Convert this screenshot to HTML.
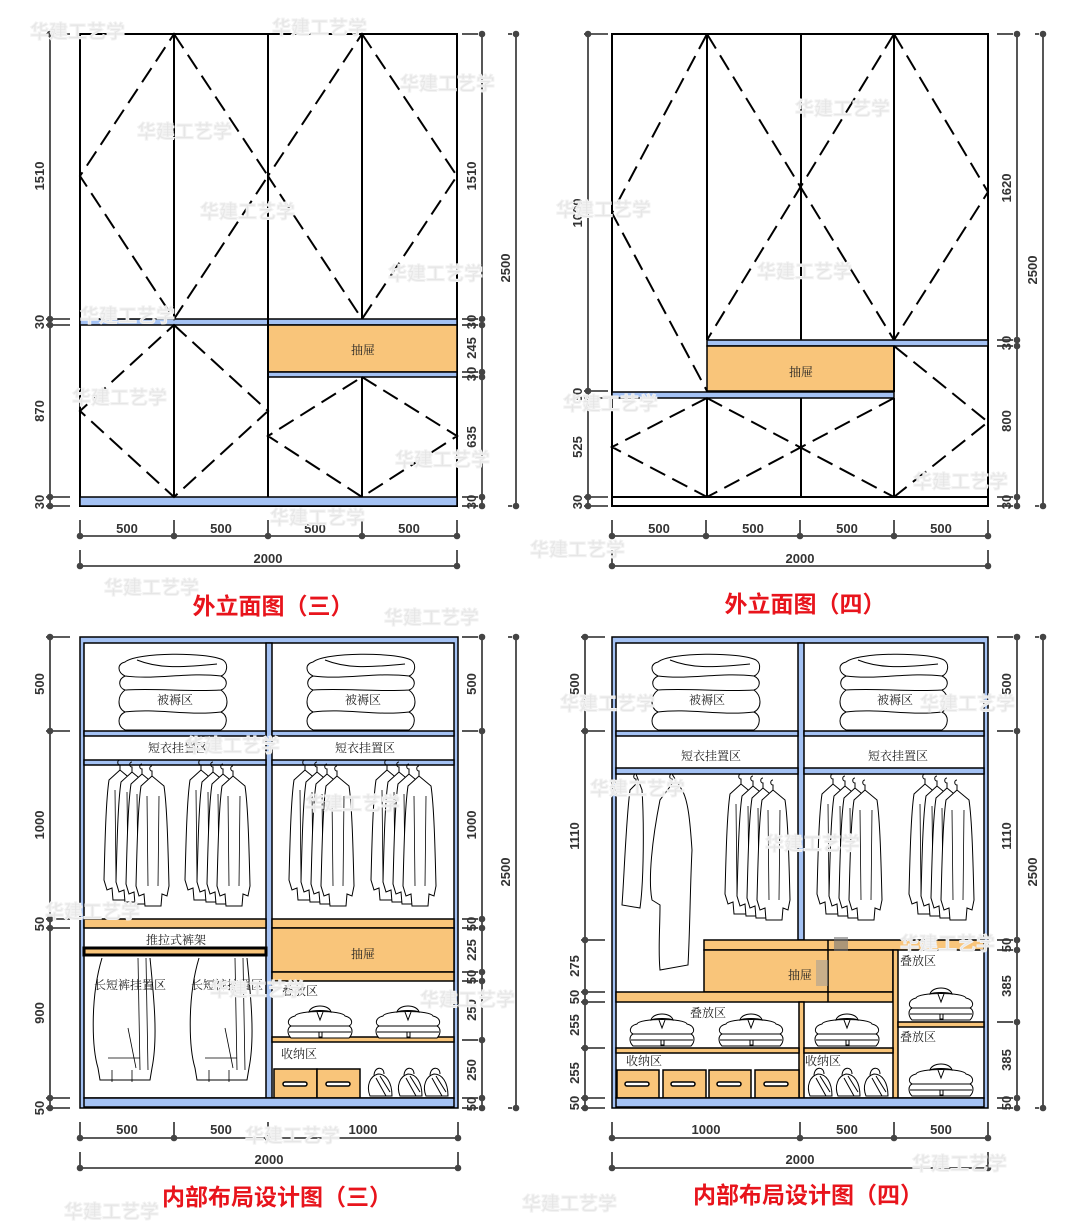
<!DOCTYPE html>
<html><head><meta charset="utf-8"><style>
html,body{margin:0;padding:0;background:#fff}
svg{display:block}
.t{font-family:"Liberation Serif","Noto Serif CJK SC",serif;font-size:12px;fill:#222}
.d{font-family:"Liberation Sans Narrow","Liberation Sans","Noto Sans CJK SC",sans-serif;font-size:13px;font-weight:bold;fill:#333;text-anchor:middle}
.ttl{font-family:"Liberation Sans","Noto Sans CJK SC",sans-serif;font-size:23px;font-weight:bold;fill:#e8141c;text-anchor:middle}
.wm{font-family:"Liberation Sans","Noto Sans CJK SC",sans-serif;font-size:19px;font-weight:bold;fill:#e6e6e6;stroke:#f2f2f2;stroke-width:1}
.dash{stroke:#000;stroke-width:2;stroke-dasharray:17 8;fill:none}
.sol{stroke:#000;stroke-width:2;fill:none}
.bl{fill:#a4c2f4;stroke:#000;stroke-width:1.5}
.or{fill:#f9c57a;stroke:#000;stroke-width:1.5}
.ln{fill:#fff;stroke:#000;stroke-width:1}
</style></head><body>
<svg id="s" width="1080" height="1228" viewBox="0 0 1080 1228" xmlns="http://www.w3.org/2000/svg">
<defs>
<symbol id="shirt" overflow="visible"><path d="M17,0 c-3,0 -3,5 0,5 L17,10" fill="none" stroke="#000" stroke-width="1"/><path d="M17,10 L6,20 C3,40 2,80 1,120 L4,130 L9,128 L10,140 L26,140 L27,128 L32,130 L34,120 C33,80 32,40 29,20 Z" class="ln"/><path d="M12,30 L13,120 M24,30 L23,120" fill="none" stroke="#000" stroke-width="0.8"/></symbol>
<g id="shirts"><use href="#shirt" x="0" y="0"/><use href="#shirt" x="12" y="2"/><use href="#shirt" x="22" y="4"/><use href="#shirt" x="32" y="6"/></g>
<symbol id="comf" overflow="visible"><path d="M8,10 C20,0 90,0 106,8 C112,12 110,22 104,24 C112,28 110,36 104,38 C112,44 112,56 104,60 C112,64 110,74 104,78 L8,78 C0,74 0,64 8,60 C0,56 0,44 8,38 C2,36 0,28 8,24 C0,20 0,12 8,10 Z M8,24 C40,28 70,20 104,24 M8,38 C40,36 70,40 104,38 M8,60 C40,56 70,64 104,60 M20,8 C40,16 60,16 100,12" class="ln"/></symbol>
<symbol id="fold" overflow="visible"><path d="M8,14 C10,8 56,8 58,14 C66,16 66,22 62,24 C66,26 66,32 62,36 L4,36 C0,32 0,26 4,24 C0,22 0,16 8,14 Z M4,24 L62,24 M2,30 L64,30" class="ln"/><path d="M22,10 C24,2 42,2 44,10 C40,8 26,8 22,10 Z M30,10 L33,18 L36,10" class="ln"/><rect x="32" y="30" width="3" height="5" class="ln"/></symbol>
<symbol id="pants" overflow="visible"><path d="M14,0 C2,40 4,90 10,110 L12,122 L62,122 L64,110 C70,80 66,40 62,0" class="ln"/><path d="M50,0 L52,112 M58,0 L60,112 M20,100 L52,100 M40,70 L48,110 M24,112 L24,124 M44,112 L44,124" fill="none" stroke="#000" stroke-width="0.8"/></symbol>
<symbol id="bag" overflow="visible"><path d="M4,30 C0,20 4,10 12,8 C20,8 26,16 26,30 Z M8,10 C8,0 18,0 18,8 M10,12 L20,30 M14,10 L24,26" class="ln"/></symbol>
<symbol id="dr" overflow="visible"><rect x="10" y="12" width="24" height="4" rx="2" fill="#fff" stroke="#000" stroke-width="1.5"/></symbol>
</defs>

<!-- ======= TOP LEFT ======= -->
<rect x="80" y="34" width="377" height="472" fill="#fff" stroke="#000" stroke-width="2"/>
<rect x="80" y="319" width="377" height="6" class="bl"/>
<rect x="268" y="325" width="189" height="47" class="or"/>
<rect x="268" y="372" width="189" height="5" class="bl"/>
<rect x="80" y="497" width="377" height="9" class="bl"/>
<path class="sol" d="M174,34 V319 M268,34 V497 M362,34 V319 M174,325 V497 M362,377 V497"/>
<path class="dash" d="M174,34 L268,176 L174,319 L80,176 Z M362,34 L457,176 L362,319 L268,176 Z M174,325 L268,411 L174,497 L80,411 Z M362,377 L457,436 L362,497 L268,436 Z"/>
<text class="t" x="363" y="354" text-anchor="middle">抽屉</text>

<!-- ======= TOP RIGHT ======= -->
<rect x="612" y="34" width="376" height="472" fill="#fff" stroke="#000" stroke-width="2"/>
<rect x="707" y="340" width="281" height="6" class="bl"/>
<rect x="707" y="346" width="187" height="45" class="or"/>
<rect x="612" y="392" width="282" height="6" class="bl"/>
<path class="sol" d="M612,497 H988 M707,34 V340 M801,34 V340 M894,34 V340 M707,398 V497 M801,398 V497 M894,398 V497 M894,346 V392"/>
<path class="dash" d="M707,34 L612,213 L707,391 M707,34 L894,340 M894,34 L707,340 M894,34 L988,192 L894,340 M707,398 L612,447 L707,497 M707,398 L894,497 M894,398 L707,497 M894,346 L988,422 L894,497"/>
<text class="t" x="801" y="376" text-anchor="middle">抽屉</text>

<!-- ======= BOTTOM LEFT ======= -->
<rect x="80" y="637" width="378" height="471" class="bl"/>
<rect x="84" y="643" width="370" height="455" fill="#fff" stroke="#000" stroke-width="1.5"/>
<rect x="266" y="643" width="6" height="455" class="bl"/>
<rect x="84" y="731" width="182" height="5" class="bl"/><rect x="272" y="731" width="182" height="5" class="bl"/>
<rect x="84" y="760" width="182" height="5" class="bl"/><rect x="272" y="760" width="182" height="5" class="bl"/>
<rect x="84" y="919" width="182" height="9" class="or"/><rect x="272" y="919" width="182" height="9" class="or"/>
<rect x="84" y="948" width="182" height="7" fill="#f9c57a" stroke="#000" stroke-width="3"/>
<rect x="272" y="928" width="182" height="44" class="or"/>
<rect x="272" y="972" width="182" height="9" class="or"/>
<rect x="272" y="1037" width="182" height="5" class="or"/>
<rect x="274" y="1069" width="43" height="29" class="or"/><rect x="317" y="1069" width="43" height="29" class="or"/>
<use href="#dr" x="273" y="1070"/><use href="#dr" x="316" y="1070"/>
<rect x="84" y="1098" width="370" height="9" class="bl" stroke-width="1"/>
<use href="#comf" x="117" y="652"/><use href="#comf" x="305" y="652"/>
<use href="#shirts" x="103" y="760"/><use href="#shirts" x="184" y="760"/>
<use href="#shirts" x="288" y="760"/><use href="#shirts" x="370" y="760"/>
<use href="#pants" x="88" y="958"/><use href="#pants" x="185" y="958"/>
<use href="#fold" x="287" y="1002"/><use href="#fold" x="375" y="1002"/>
<use href="#bag" x="366" y="1066"/><use href="#bag" x="396" y="1066"/><use href="#bag" x="422" y="1066"/>
<text class="t" x="175" y="704" text-anchor="middle">被褥区</text>
<text class="t" x="363" y="704" text-anchor="middle">被褥区</text>
<text class="t" x="178" y="752" text-anchor="middle">短衣挂置区</text>
<text class="t" x="365" y="752" text-anchor="middle">短衣挂置区</text>
<text class="t" x="176" y="944" text-anchor="middle">推拉式裤架</text>
<text class="t" x="363" y="958" text-anchor="middle">抽屉</text>
<text class="t" x="130" y="989" text-anchor="middle">长短裤挂置区</text>
<text class="t" x="227" y="989" text-anchor="middle">长短裤挂置区</text>
<text class="t" x="300" y="995" text-anchor="middle">叠放区</text>
<text class="t" x="299" y="1058" text-anchor="middle">收纳区</text>

<!-- ======= BOTTOM RIGHT ======= -->
<rect x="612" y="637" width="376" height="471" class="bl"/>
<rect x="616" y="643" width="368" height="455" fill="#fff" stroke="#000" stroke-width="1.5"/>
<rect x="798" y="643" width="6" height="297" class="bl"/>
<rect x="616" y="731" width="182" height="5" class="bl"/><rect x="804" y="731" width="180" height="5" class="bl"/>
<rect x="616" y="768" width="182" height="6" class="bl"/><rect x="804" y="768" width="180" height="6" class="bl"/>
<rect x="704" y="940" width="280" height="10" class="or"/>
<rect x="704" y="950" width="189" height="42" class="or"/>
<rect x="616" y="992" width="277" height="10" class="or"/>
<rect x="893" y="950" width="5" height="148" class="or"/>
<rect x="898" y="1022" width="86" height="5" class="or"/>
<rect x="799" y="1002" width="5" height="96" class="or"/>
<rect x="616" y="1048" width="183" height="5" class="or"/><rect x="804" y="1048" width="89" height="5" class="or"/>
<rect x="617" y="1070" width="42" height="28" class="or"/><rect x="663" y="1070" width="43" height="28" class="or"/>
<rect x="709" y="1070" width="42" height="28" class="or"/><rect x="755" y="1070" width="44" height="28" class="or"/>
<use href="#dr" x="615" y="1070"/><use href="#dr" x="661" y="1070"/><use href="#dr" x="707" y="1070"/><use href="#dr" x="754" y="1070"/>
<rect x="616" y="1098" width="368" height="9" class="bl" stroke-width="1"/>
<use href="#comf" x="650" y="652"/><use href="#comf" x="838" y="652"/>
<path d="M636,774 c-3,0 -3,5 0,5 L636,784 L630,790 C626,820 624,880 622,905 L640,908 C644,880 644,820 642,790 Z" class="ln"/>
<path d="M672,774 c-3,0 -3,5 0,5 L672,784 L660,800 C652,840 648,880 652,900 L660,905 C660,930 658,950 660,970 L688,965 C690,930 690,890 692,850 C690,820 688,800 682,790 Z" class="ln"/>
<use href="#shirts" x="724" y="774"/><use href="#shirts" x="816" y="774"/><use href="#shirts" x="908" y="774"/>
<use href="#fold" x="629" y="1010"/><use href="#fold" x="718" y="1010"/><use href="#fold" x="814" y="1010"/>
<use href="#fold" x="908" y="984"/><use href="#fold" x="908" y="1060"/>
<use href="#bag" x="806" y="1066"/><use href="#bag" x="834" y="1066"/><use href="#bag" x="862" y="1066"/>
<path d="M828,940 V1002" stroke="#000" stroke-width="1.5"/><rect x="834" y="937" width="14" height="14" fill="#777" opacity="0.6"/><rect x="816" y="960" width="12" height="26" fill="#999" opacity="0.5"/>
<text class="t" x="707" y="704" text-anchor="middle">被褥区</text>
<text class="t" x="895" y="704" text-anchor="middle">被褥区</text>
<text class="t" x="711" y="760" text-anchor="middle">短衣挂置区</text>
<text class="t" x="898" y="760" text-anchor="middle">短衣挂置区</text>
<text class="t" x="800" y="979" text-anchor="middle">抽屉</text>
<text class="t" x="918" y="965" text-anchor="middle">叠放区</text>
<text class="t" x="918" y="1041" text-anchor="middle">叠放区</text>
<text class="t" x="708" y="1017" text-anchor="middle">叠放区</text>
<text class="t" x="644" y="1065" text-anchor="middle">收纳区</text>
<text class="t" x="823" y="1065" text-anchor="middle">收纳区</text>

<g id="dims" stroke="#444" stroke-width="1.8" fill="#444"></g>

<!-- dimension texts -->
<g class="d">
<text transform="translate(44,176) rotate(-90)">1510</text>
<text transform="translate(44,322) rotate(-90)">30</text>
<text transform="translate(44,411) rotate(-90)">870</text>
<text transform="translate(44,502) rotate(-90)">30</text>
<text transform="translate(476,176) rotate(-90)">1510</text>
<text transform="translate(476,322) rotate(-90)">30</text>
<text transform="translate(476,348) rotate(-90)">245</text>
<text transform="translate(476,374) rotate(-90)">30</text>
<text transform="translate(476,437) rotate(-90)">635</text>
<text transform="translate(476,502) rotate(-90)">30</text>
<text transform="translate(510,268) rotate(-90)">2500</text>
<text x="127" y="533">500</text><text x="221" y="533">500</text><text x="315" y="533">500</text><text x="409" y="533">500</text>
<text x="268" y="563">2000</text>

<text transform="translate(582,213) rotate(-90)">1600</text>
<text transform="translate(582,395) rotate(-90)">30</text>
<text transform="translate(582,447) rotate(-90)">525</text>
<text transform="translate(582,502) rotate(-90)">30</text>
<text transform="translate(1011,188) rotate(-90)">1620</text>
<text transform="translate(1011,343) rotate(-90)">30</text>
<text transform="translate(1011,421) rotate(-90)">800</text>
<text transform="translate(1011,502) rotate(-90)">30</text>
<text transform="translate(1037,270) rotate(-90)">2500</text>
<text x="659" y="533">500</text><text x="753" y="533">500</text><text x="847" y="533">500</text><text x="941" y="533">500</text>
<text x="800" y="563">2000</text>

<text transform="translate(44,684) rotate(-90)">500</text>
<text transform="translate(44,825) rotate(-90)">1000</text>
<text transform="translate(44,924) rotate(-90)">50</text>
<text transform="translate(44,1013) rotate(-90)">900</text>
<text transform="translate(44,1108) rotate(-90)">50</text>
<text transform="translate(476,684) rotate(-90)">500</text>
<text transform="translate(476,825) rotate(-90)">1000</text>
<text transform="translate(476,924) rotate(-90)">50</text>
<text transform="translate(476,950) rotate(-90)">225</text>
<text transform="translate(476,977) rotate(-90)">50</text>
<text transform="translate(476,1010) rotate(-90)">250</text>
<text transform="translate(476,1070) rotate(-90)">250</text>
<text transform="translate(476,1104) rotate(-90)">50</text>
<text transform="translate(510,872) rotate(-90)">2500</text>
<text x="127" y="1134">500</text><text x="221" y="1134">500</text><text x="363" y="1134">1000</text>
<text x="269" y="1164">2000</text>

<text transform="translate(579,684) rotate(-90)">500</text>
<text transform="translate(579,836) rotate(-90)">1110</text>
<text transform="translate(579,966) rotate(-90)">275</text>
<text transform="translate(579,997) rotate(-90)">50</text>
<text transform="translate(579,1025) rotate(-90)">255</text>
<text transform="translate(579,1073) rotate(-90)">255</text>
<text transform="translate(579,1103) rotate(-90)">50</text>
<text transform="translate(1011,684) rotate(-90)">500</text>
<text transform="translate(1011,836) rotate(-90)">1110</text>
<text transform="translate(1011,945) rotate(-90)">50</text>
<text transform="translate(1011,986) rotate(-90)">385</text>
<text transform="translate(1011,1060) rotate(-90)">385</text>
<text transform="translate(1011,1103) rotate(-90)">50</text>
<text transform="translate(1037,872) rotate(-90)">2500</text>
<text x="706" y="1134">1000</text><text x="847" y="1134">500</text><text x="941" y="1134">500</text>
<text x="800" y="1164">2000</text>
</g>

<text class="ttl" x="273" y="614">外立面图（三）</text>
<text class="ttl" x="805" y="612">外立面图（四）</text>
<text class="ttl" x="277" y="1205">内部布局设计图（三）</text>
<text class="ttl" x="808" y="1203">内部布局设计图（四）</text>

<g class="wm">
<text x="30" y="38">华建工艺学</text><text x="272" y="34">华建工艺学</text><text x="400" y="90">华建工艺学</text>
<text x="137" y="138">华建工艺学</text><text x="200" y="218">华建工艺学</text><text x="388" y="280">华建工艺学</text>
<text x="80" y="322">华建工艺学</text><text x="72" y="404">华建工艺学</text><text x="395" y="466">华建工艺学</text>
<text x="270" y="524">华建工艺学</text><text x="104" y="594">华建工艺学</text><text x="384" y="624">华建工艺学</text>
<text x="795" y="115">华建工艺学</text><text x="556" y="216">华建工艺学</text><text x="757" y="278">华建工艺学</text>
<text x="563" y="410">华建工艺学</text><text x="913" y="488">华建工艺学</text><text x="530" y="556">华建工艺学</text>
<text x="560" y="710">华建工艺学</text><text x="920" y="710">华建工艺学</text><text x="590" y="795">华建工艺学</text>
<text x="765" y="850">华建工艺学</text><text x="900" y="950">华建工艺学</text><text x="420" y="1006">华建工艺学</text>
<text x="210" y="996">华建工艺学</text><text x="45" y="918">华建工艺学</text><text x="245" y="1142">华建工艺学</text>
<text x="912" y="1170">华建工艺学</text><text x="522" y="1210">华建工艺学</text><text x="64" y="1218">华建工艺学</text>
<text x="185" y="752">华建工艺学</text><text x="305" y="810">华建工艺学</text>
</g>
</svg>
<script>
(function(){
var g=document.getElementById('dims'),NS='http://www.w3.org/2000/svg';
function L(x1,y1,x2,y2){var l=document.createElementNS(NS,'line');l.setAttribute('x1',x1);l.setAttribute('y1',y1);l.setAttribute('x2',x2);l.setAttribute('y2',y2);g.appendChild(l);}
function D(x,y,r){var c=document.createElementNS(NS,'circle');c.setAttribute('cx',x);c.setAttribute('cy',y);c.setAttribute('r',r||2.4);g.appendChild(c);}
function V(x,ys,ext){L(x,ys[0],x,ys[ys.length-1]);ys.forEach(function(y){L(x-4,y,x+ext,y);D(x,y);});}
function H(y,xs){L(xs[0],y,xs[xs.length-1],y);xs.forEach(function(x){L(x,y-16,x,y+3);D(x,y);});}
V(50,[34,319,325,497,506],20);V(482,[34,319,325,372,377,497,506],-20);V(516,[34,506],-8);
H(536,[80,174,268,362,457]);H(566,[80,457]);
V(588,[34,391,398,497,506],20);V(1017,[34,340,346,497,506],-20);V(1043,[34,506],-8);
H(536,[612,706,800,894,988]);H(566,[612,988]);
V(50,[637,731,919,928,1098,1108],20);V(482,[637,731,919,928,972,981,1040,1098,1108],-20);V(516,[637,1108],-8);
H(1138,[80,174,268,458]);H(1168,[80,458]);
V(585,[637,731,940,992,1002,1048,1098,1108],20);V(1017,[637,731,940,950,1022,1098,1108],-20);V(1043,[637,1108],-8);
H(1138,[612,800,894,988]);H(1168,[612,988]);
})();
</script>
</body></html>
